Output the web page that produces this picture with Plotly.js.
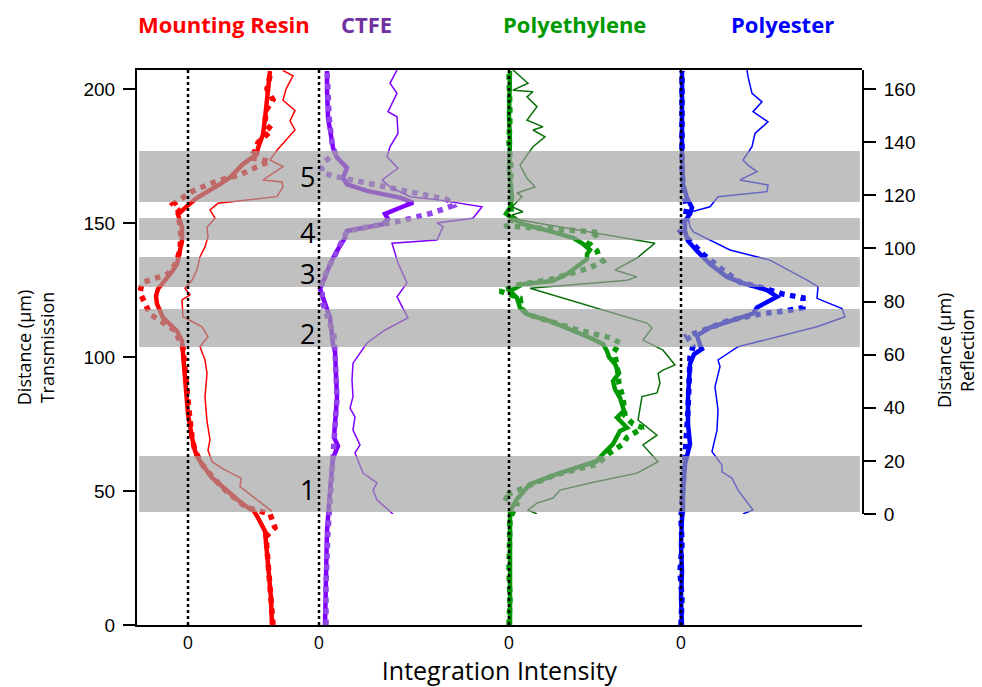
<!DOCTYPE html>
<html>
<head>
<meta charset="utf-8">
<script src="https://cdn.plot.ly/plotly-3.0.1.min.js"></script>
<style>html,body{margin:0;padding:0;background:#fff;}#chart{width:982px;height:687px;}</style>
</head>
<body>
<div id="chart"></div>
<script>
// ---- column zero positions on the shared intensity axis ----
const materials = ["Mounting Resin", "CTFE", "Polyethylene", "Polyester"];
const zeroOffsets = [5.1, 18.2, 37.2, 54.4];

// ---- Mounting Resin ----
const resinTransY = [0,10,22.8,35,40,42.5,45,50,55,60,63,65,70,78.7,91,103.5,106,109.7,114.7,119.8,122.8,125.4,127.1,130.9,134.6,139.6,143.3,148.3,153.2,156.3,159.4,164.5,167,172,175.7,178,183,189,195.5,201,206.7];
const resinTransX = [8.4,8.3,8.0,7.7,7.0,6.6,5.5,3.9,2.4,1.4,0.9,0.7,0.4,0.0,-0.3,-0.5,-0.6,-1.1,-2.5,-3.1,-3.2,-3.0,-2.6,-1.8,-1.1,-0.8,-0.6,-0.6,-1.0,-0.1,0.9,3.2,4.2,5.5,6.9,7.0,7.5,7.7,7.9,8.0,8.2];
const resinFitY = [0,10,22.8,33,36.3,41.4,44,50,55,60,65,70,80,91,103.5,110,113.4,116,120,124,127.7,131,135,140,145,150,155,157,162,165.7,168,172,173,174.4,176.9,180,184.7,187,192,196,200,206.7];
const resinFitX = [8.5,8.3,8.0,7.8,8.7,8.2,5.8,3.8,2.5,1.4,0.7,0.4,0.1,-0.2,-0.5,-1.3,-2.6,-3.8,-4.3,-4.8,-4.6,-2.0,-1.2,-0.8,-0.7,-0.8,-1.0,-1.5,0.5,2.9,5.2,7.5,8.2,6.2,6.7,7.0,8.4,7.7,7.8,8.5,7.9,8.3];
const resinReflY = [1,5,10.3,13.5,17,19.7,24,28,35,44,53,58,63,66.8,70.5,74.3,80.6,82.5,85,88,92,96.9,100.6,104.4,108,111.4,114.5,117,119.5,123.2,125,125.8,130.8,133.3,137,144.6,148,152,155.8,160,165,167];
const resinReflX = [8.4,7.0,5.2,5.3,3.5,2.4,2.0,2.2,1.9,1.7,1.9,1.7,1.2,2.0,1.4,-0.5,-0.6,0.2,-0.3,0.4,0.9,1.2,1.7,2.0,1.9,2.7,2.2,3.0,8.9,9.5,9.4,7.5,9.5,8.2,8.9,10.7,10.2,10.7,9.5,9.8,10.5,9.5];

// ---- CTFE ----
const ctfeTransY = [0,15,35,50,62.4,66.8,70,84.8,95,102,105,114.7,122.1,125.4,129.6,134.7,139.6,144.5,147,149.6,151.5,153.4,155.7,157.6,159.5,162,164.4,166.9,170.6,174.4,178.1,189.3,200,206.7];
const ctfeTransX = [0.6,0.7,0.8,1.1,1.4,1.9,1.5,1.8,1.7,1.6,1.4,1.1,0.4,0.1,0.6,1.1,1.8,2.6,2.8,6.4,6.9,6.6,8.1,9.4,8.1,4.8,2.8,2.4,2.8,1.8,1.4,0.9,0.8,0.8];
const ctfeFitY = [0,15,35,50,62,70,85,102,108,112.3,116,119.8,124,128.4,132,137,142,145,147,149.6,150.7,153.8,156.5,158.8,160.7,162.6,165.1,167.5,169,171,173,176,180,190,200,206.7];
const ctfeFitX = [0.7,0.7,0.9,1.2,1.4,1.6,1.8,1.6,1.5,1.1,0.8,0.4,0.3,0.3,0.8,1.5,2.1,2.5,2.8,6.4,8.1,11.4,13.4,12.8,10.4,8.1,4.8,1.4,0.3,0.3,0.6,1.6,1.3,1.0,0.9,0.8];
const ctfeReflY = [0,5.3,9,11.7,15.4,23,26,31.6,36.6,39.9,44.2,50.5,56.8,64.4,69.3,73.8,81.8,87,94.5,102,103.2,108.2,109.6,111.4,115.7,118.2,119.5,123.2,125.8,130.2,134.5,138.3,143.3,149.6,151.5,158.4,162.2,167.2];
const ctfeReflX = [7.4,5.8,5.4,5.8,4.4,3.6,4.1,3.4,3.6,3.1,3.4,3.3,3.4,4.8,6.6,8.9,7.8,8.8,7.9,7.3,11.8,12.4,11.8,15.4,16.3,12.1,9.1,7.1,6.3,7.9,6.8,7.1,7.9,7.8,6.9,7.8,7.1,7.8];

// ---- Polyethylene ----
const peTransY = [0,10,20,30,40,42.5,47,52.6,56.3,58.7,61.2,63.8,67.5,72.4,73.6,77.4,80,84.8,88,91,94,97.4,100,102.2,104.9,107.2,109.7,113.4,116,118.4,122.1,124.6,127.2,128.4,131,134.7,136.5,138.4,140,142.2,144.5,147,149.6,151.5,153.5,155.7,159.4,170,180,190,200,206.7];
const peTransX = [0.1,0.1,0.1,0.1,0.1,0.1,0.8,2.1,4.8,6.8,8.8,9.4,10.4,11.1,11.8,10.8,11.5,11.1,10.6,10.4,11.0,10.6,10.0,9.8,9.4,8.1,6.4,4.1,1.8,1.1,0.8,0.1,1.4,4.4,5.8,7.1,7.8,7.8,8.1,7.4,6.4,4.1,1.4,0.4,-0.3,0.1,0.3,0.0,0.1,0.0,0.1,0.1];
const peFitY = [0,10,20,30,40,45,48,52,56,60,64,67.5,70,73.6,75,78,84.8,90,97,102,105.3,107.2,110,113.4,116,118,122,124.6,127,129,131,133.3,135.8,137.5,139.6,142.5,145,146.4,147,147.8,148.5,148.9,151,155,160,170,180,190,200,206.7];
const peFitX = [0.0,0.1,0.0,0.1,0.1,0.8,-0.6,2.0,4.6,8.8,10.0,11.4,11.8,13.4,12.4,11.6,11.4,11.0,10.8,10.5,11.1,10.1,7.0,4.0,1.8,1.3,1.1,-0.9,1.0,4.2,6.0,8.1,9.4,9.0,8.8,8.0,8.5,9.1,7.4,4.5,2.0,-0.4,0.3,0.2,0.1,0.2,0.0,0.1,0.1,0.0];
const peReflY = [0,1.5,4.1,6,9,11.7,15.4,19.7,26,29.7,35.4,44.2,45.6,49.3,53,54.2,56.1,61.7,65.5,70,71.9,84.3,85,88,89.3,91.9,96.4,102,110.7,112.6,113.8,115.7,119.5,120.9,123.2,126.4,131.4,138.3,142,144.6,145.8,148.3,153.4,157.1,159,159.6,162.2,167.2];
const peReflX = [2.8,1.9,2.8,4.4,5.1,8.1,12.8,14.9,13.4,14.8,12.9,13.3,14.8,15.1,14.9,15.4,16.6,15.4,13.4,14.3,13.8,2.8,2.1,11.8,12.8,10.6,12.8,14.6,1.1,0.3,1.4,0.3,1.3,0.8,2.6,1.8,1.1,2.4,3.6,2.4,3.4,1.8,2.8,1.8,2.4,0.4,1.9,0.4];

// ---- Polyester ----
const pesTransY = [0,10,20,30,40,42.5,50,60,67.5,75,84.8,90,97.4,101,103,104.5,108,111,112.7,116.2,118.5,122.5,125,127.6,129.9,134.7,139.6,143.3,147,150.7,153.4,155.7,159.4,164.5,176.9,190,206.7];
const pesTransX = [0.1,0.0,0.1,0.0,0.1,0.2,0.2,0.4,0.9,0.7,0.7,0.8,0.9,1.3,2.1,1.9,1.6,2.9,4.2,7.2,7.6,9.6,8.6,6.2,4.6,2.9,1.6,0.7,0.4,0.4,0.9,1.1,0.6,0.2,0.1,0.1,0.1];
const pesFitY = [0,10,20,30,40,50,60,70,80,90,100,104,107.8,110.9,113.4,114.5,116,117.3,118.4,122.1,123.5,126.1,127.9,133.3,138.4,143.3,147,149.6,152,156,160,170,180,190,200,206.7];
const pesFitX = [0.0,0.1,-0.1,0.1,0.0,0.2,0.3,0.6,0.7,0.8,0.9,1.2,0.6,2.9,4.6,5.9,7.9,10.6,12.2,12.2,10.2,7.9,5.9,3.9,2.2,0.9,-0.1,0.1,0.4,0.6,0.3,0.1,0.1,0.0,0.1,0.1];
const pesReflY = [0,1.5,9,13.5,15.9,18.4,23.5,31.6,39.2,47.9,55.5,58,63,66.5,70.5,74.3,77.4,81.2,85.6,88.1,95.6,99.4,106.3,108.2,113.3,115.7,119.5,121.4,123.9,125.8,128.9,131.4,133.3,138.3,143.3,147.7,151.5,155.2,158.4,164.7,167.2];
const pesReflX = [6.2,7.2,5.7,5.1,4.1,4.1,3.1,3.6,3.7,3.4,3.9,3.7,5.7,9.5,13.6,16.4,16.1,13.6,13.7,12.6,8.9,4.9,1.2,0.9,0.6,2.9,3.7,8.6,8.7,5.9,7.6,6.7,6.2,7.1,7.4,8.7,7.2,8.1,7.1,6.7,6.6];

// ---- shaded layers (transmission distance, µm) ----
const bandLabels = ["1", "2", "3", "4", "5"];
const bandLow  = [42.2, 103.7, 126.1, 143.7, 157.8];
const bandHigh = [63.1, 117.9, 137.3, 151.9, 176.9];
const bandLabelY = [50.7, 108.6, 131, 146.6, 167.2];

// ---- styling ----
const solidColors = ["#ff0000", "#8000ff", "#009900", "#0000ff"];
const dotColors   = ["#ff0000", "#9444ec", "#009900", "#0000ff"];
const thinColors  = ["#ff0000", "#8000ff", "#0b700b", "#0000ff"];
const headColors  = ["#ff0000", "#7030a0", "#009900", "#0000ff"];
const headX = [0.12, 0.317, 0.604, 0.891];

const series = [
  [resinTransX, resinTransY, resinFitX, resinFitY, resinReflX, resinReflY],
  [ctfeTransX, ctfeTransY, ctfeFitX, ctfeFitY, ctfeReflX, ctfeReflY],
  [peTransX, peTransY, peFitX, peFitY, peReflX, peReflY],
  [pesTransX, pesTransY, pesFitX, pesFitY, pesReflX, pesReflY]
];

const traces = [];
series.forEach((s, i) => {
  const off = zeroOffsets[i];
  const sh = arr => arr.map(v => v + off);
  traces.push({x: sh(s[0]), y: s[1], xaxis: 'x', yaxis: 'y', mode: 'lines',
    line: {color: solidColors[i], width: 4.5}, hoverinfo: 'skip'});
  traces.push({x: sh(s[2]), y: s[3], xaxis: 'x', yaxis: 'y', mode: 'lines',
    line: {color: dotColors[i], width: 5.5, dash: 'dot'}, hoverinfo: 'skip'});
});
series.forEach((s, i) => {
  const off = zeroOffsets[i];
  traces.push({x: s[4].map(v => v + off), y: s[5], xaxis: 'x', yaxis: 'y2', mode: 'lines',
    line: {color: thinColors[i], width: 1.5}, hoverinfo: 'skip'});
});

const shapes = [];
bandLow.forEach((lo, k) => {
  shapes.push({type: 'rect', layer: 'above', xref: 'paper', x0: 0.003, x1: 0.997,
    yref: 'y', y0: lo, y1: bandHigh[k], fillcolor: 'rgba(159,159,159,0.66)', line: {width: 0}});
});
zeroOffsets.forEach(o => {
  shapes.push({type: 'line', layer: 'above', xref: 'x', x0: o, x1: o, yref: 'paper', y0: 0, y1: 1,
    line: {color: '#000', width: 2.5, dash: 'dot'}});
});

const annotations = [];
materials.forEach((m, i) => {
  annotations.push({text: m, xref: 'paper', yref: 'paper', x: headX[i], y: 1.083,
    xanchor: 'center', yanchor: 'middle', showarrow: false,
    font: {family: 'Open Sans', size: 22, color: headColors[i], weight: 'bold'}});
});
bandLabels.forEach((t, k) => {
  annotations.push({text: t, xref: 'paper', yref: 'y', x: 0.2345, y: bandLabelY[k],
    xanchor: 'center', yanchor: 'middle', showarrow: false,
    font: {family: 'Open Sans', size: 27, color: '#000'}});
});
annotations.push({text: 'Distance (µm)<br>Reflection', xref: 'paper', yref: 'paper',
  x: 1.128, y: 0.495, xanchor: 'center', yanchor: 'middle', textangle: -90, showarrow: false,
  font: {family: 'Open Sans', size: 18, color: '#000'}});

const layout = {
  width: 982, height: 687,
  margin: {l: 137, r: 120, t: 70, b: 62},
  paper_bgcolor: '#fff', plot_bgcolor: 'rgba(0,0,0,0)',
  showlegend: false,
  xaxis: {range: [0, 72.5], showgrid: false, zeroline: false, showline: true, linecolor: '#000',
    linewidth: 2, mirror: true, ticks: '', tickvals: zeroOffsets, ticktext: ['0', '0', '0', '0'],
    ticklabelstandoff: 0,
    tickfont: {family: 'Open Sans', size: 18, color: '#000'},
    title: {text: 'Integration Intensity', font: {family: 'Open Sans', size: 25, color: '#000'}, standoff: 12}},
  yaxis: {range: [0, 207.1], showgrid: false, zeroline: false, showline: true, linecolor: '#000',
    linewidth: 2, ticks: 'outside', ticklen: 12, tickwidth: 2, tickcolor: '#000', dtick: 50,
    ticklabelstandoff: 4,
    tickfont: {family: 'Liberation Sans, Arial', size: 19, color: '#000'},
    title: {text: 'Distance (µm)<br>Transmission', font: {family: 'Open Sans', size: 18, color: '#000'}, standoff: 24}},
  yaxis2: {domain: [0.2, 1], anchor: 'x', side: 'right', range: [0, 167.2], showgrid: false,
    zeroline: false, showline: true, linecolor: '#000', linewidth: 2, ticks: 'outside', ticklen: 12,
    tickwidth: 2, tickcolor: '#000', dtick: 20, ticklabelstandoff: 4,
    tickfont: {family: 'Liberation Sans, Arial', size: 19, color: '#000'}},
  shapes: shapes,
  annotations: annotations
};

Plotly.newPlot('chart', traces, layout, {staticPlot: true, displayModeBar: false});
</script>
</body>
</html>
